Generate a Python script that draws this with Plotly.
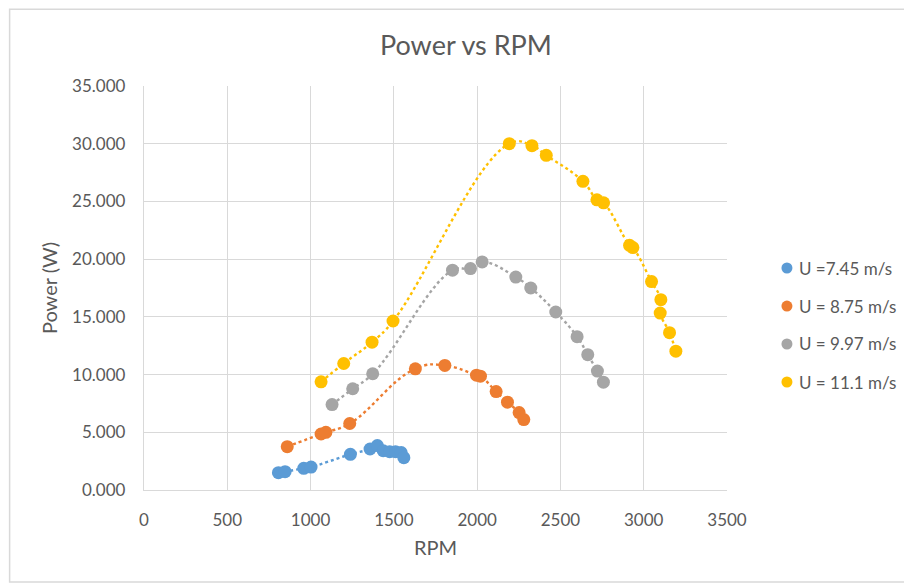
import plotly.graph_objects as go

# ---- data ----
rpm_745 = [807, 847, 959, 1003, 1239, 1357, 1401, 1436, 1475, 1510, 1544, 1560]
pow_745 = [1.50, 1.59, 1.88, 1.99, 3.09, 3.55, 3.85, 3.40, 3.32, 3.32, 3.25, 2.80]

rpm_875 = [860, 1063, 1092, 1235, 1629, 1806, 1996, 2020, 2114, 2182, 2252, 2280]
pow_875 = [3.75, 4.85, 5.00, 5.76, 10.50, 10.79, 9.95, 9.86, 8.53, 7.61, 6.71, 6.10]

rpm_997 = [1129, 1253, 1373, 1852, 1960, 2030, 2232, 2322, 2472, 2600, 2664, 2722, 2758]
pow_997 = [7.40, 8.77, 10.07, 19.04, 19.18, 19.76, 18.45, 17.50, 15.42, 13.28, 11.72, 10.30, 9.34]

rpm_111 = [1063, 1199, 1369, 1495, 2193, 2329, 2415, 2635, 2719, 2759, 2915, 2935,
           3047, 3103, 3099, 3155, 3193]
pow_111 = [9.37, 10.96, 12.81, 14.64, 30.00, 29.83, 28.99, 26.74, 25.14, 24.88, 21.20,
           21.00, 18.06, 16.49, 15.33, 13.63, 12.03]

series_names = ["U =7.45 m/s", "U = 8.75 m/s", "U = 9.97 m/s", "U = 11.1 m/s"]
series_colors = ["#5B9BD5", "#ED7D31", "#A5A5A5", "#FFC000"]
x_ticks = [0, 500, 1000, 1500, 2000, 2500, 3000, 3500]
y_ticks = [0, 5, 10, 15, 20, 25, 30, 35]

FONT = "Lato"
GREY = "#595959"
GRID = "#D9D9D9"

fig = go.Figure()
data = [(rpm_745, pow_745), (rpm_875, pow_875), (rpm_997, pow_997), (rpm_111, pow_111)]

for (xs, ys), col in zip(data, series_colors):
    fig.add_trace(go.Scatter(
        x=xs, y=ys, mode="lines",
        line=dict(color=col, width=2.4, dash="dot", shape="spline", smoothing=1.3),
        showlegend=False, hoverinfo="skip"))
for i, ((xs, ys), name, col) in enumerate(zip(data, series_names, series_colors)):
    fig.add_trace(go.Scatter(
        x=xs, y=ys, mode="markers", name=name, showlegend=False,
        marker=dict(color=col, size=13, line=dict(width=0))))

# legend drawn manually (marker dot + label), positioned in paper coordinates
legend_y = [0.5495, 0.4554, 0.3614, 0.2673]
legend_marker_x = 1.1028
legend_text_x = 1.1200
shapes = [dict(type="rect", xref="paper", yref="paper", x0=-0.2305, x1=1.3102, y0=-0.2277, y1=1.19,
               line=dict(color=GRID, width=1.5), fillcolor="rgba(0,0,0,0)", layer="below")]
annotations = []
for name, col, ly in zip(series_names, series_colors, legend_y):
    shapes.append(dict(type="circle", xref="paper", yref="paper", xsizemode="pixel", ysizemode="pixel",
                       xanchor=legend_marker_x, yanchor=ly, x0=-5.5, x1=5.5, y0=-5.5, y1=5.5,
                       fillcolor=col, line=dict(width=0)))
    annotations.append(dict(text=name, xref="paper", yref="paper", x=legend_text_x, y=ly,
                            xanchor="left", yanchor="middle", showarrow=False,
                            font=dict(size=17, color=GREY, family=FONT)))

fig.update_layout(
    width=904, height=576,
    margin=dict(l=135.5, r=185, t=78, b=94, autoexpand=False),
    paper_bgcolor="white", plot_bgcolor="white",
    font=dict(family=FONT, color=GREY, size=17),
    showlegend=False,
    title=dict(text="Power vs RPM", x=0.5066, xref="container", y=0.934, yref="container",
               yanchor="middle", xanchor="center", font=dict(size=27, color=GREY, family=FONT)),
    xaxis=dict(range=[0, 3500], tickvals=x_ticks, showgrid=True, gridcolor=GRID, gridwidth=1.3,
               zeroline=False, showline=True, linecolor=GRID, linewidth=1.3,
               ticks="", ticklabelstandoff=14, tickfont=dict(size=17, color=GREY),
               title=dict(text="RPM", font=dict(size=20, color=GREY), standoff=12)),
    yaxis=dict(range=[0, 35], tickvals=y_ticks, tickformat=".3f", showgrid=True, gridcolor=GRID,
               gridwidth=1.3, zeroline=False, showline=True, linecolor=GRID, linewidth=1.3,
               ticks="", ticklabelstandoff=14, tickfont=dict(size=17, color=GREY),
               title=dict(text="Power (W)", font=dict(size=20, color=GREY), standoff=9)),
    shapes=shapes,
    annotations=annotations,
)

fig.write_html("out.html")
